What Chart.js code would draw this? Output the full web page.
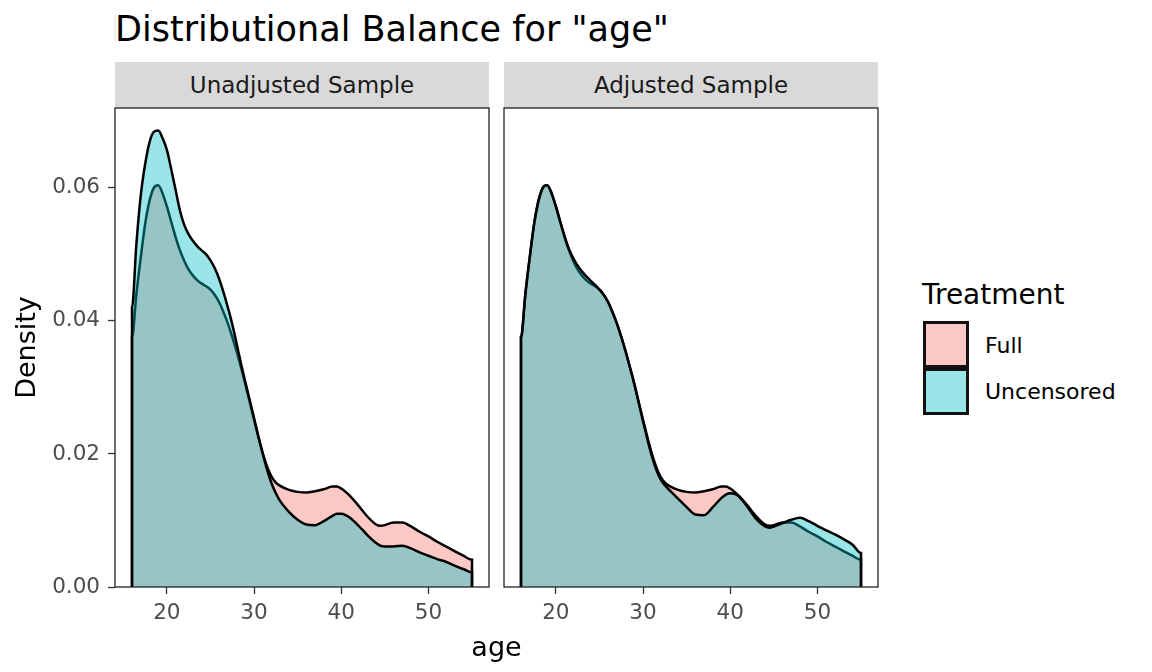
<!DOCTYPE html>
<html>
<head>
<meta charset="utf-8">
<script src="https://cdn.jsdelivr.net/npm/chart.js@4.4.1/dist/chart.umd.min.js"></script>
<style>
body { margin:0; background:#fff; width:1152px; height:672px; position:relative; overflow:hidden; font-family:'DejaVu Sans', sans-serif; }
canvas { position:absolute; }
.t { position:absolute; white-space:nowrap; line-height:1; }
.strip { position:absolute; top:62px; height:46px; width:374px; background:#d9d9d9; }
.key { position:absolute; left:923px; width:46px; height:47px; box-sizing:border-box; border:3px solid #111; }
</style>
</head>
<body>
<div class="t" style="left:115px;top:12px;font-size:35px;color:#000">Distributional Balance for "age"</div>

<div class="strip" style="left:115px"></div>
<div class="strip" style="left:504px"></div>
<div class="t" id="strip1" style="left:115px;width:374px;text-align:center;top:73.5px;font-size:23px;color:#1a1a1a"></div>
<div class="t" id="strip2" style="left:504px;width:374px;text-align:center;top:73.5px;font-size:23px;color:#1a1a1a"></div>

<canvas id="panel1" width="491" height="526" style="left:0;top:106px"></canvas>
<canvas id="panel2" width="378" height="526" style="left:502px;top:106px"></canvas>

<div class="t" style="left:396.5px;width:200px;text-align:center;top:633px;font-size:27px;color:#000">age</div>

<div class="t" style="left:922px;top:281px;font-size:28px;color:#000">Treatment</div>
<div class="key" style="top:321px;background:rgb(252,200,197)"></div>
<div class="key" style="top:368px;background:rgb(153,229,231)"></div>
<div class="t" id="lab1" style="left:985px;top:334.5px;font-size:22px;color:#000"></div>
<div class="t" id="lab2" style="left:985px;top:381px;font-size:22px;color:#000"></div>

<script>
// facets and groups
var facets = ["Unadjusted Sample", "Adjusted Sample"];
var groups = ["Full", "Uncensored"];

// age values the densities were read at
var ageGrid = [16, 16.5, 17, 17.5, 18, 18.5, 19, 19.5, 20, 20.5, 21, 21.5, 22, 22.5, 23, 23.5, 24, 24.5, 25, 25.5,
  26, 26.5, 27, 27.5, 28, 28.5, 29, 29.5, 30, 30.5, 31, 31.5, 32, 32.5, 33, 34, 35, 36, 37, 38,
  39, 39.5, 40, 40.5, 41, 42, 43, 44, 44.5, 45, 46, 47, 48, 49, 50, 51, 52, 53, 54, 55];

// full sample (same in both panels)
var fullDensity = [0.0375, 0.0440, 0.0495, 0.0545, 0.0580, 0.0600, 0.0604, 0.0592, 0.0572, 0.0549,
  0.0526, 0.0506, 0.0490, 0.0477, 0.0468, 0.0461, 0.0456, 0.0452, 0.0447, 0.0439,
  0.0428, 0.0413, 0.0396, 0.0376, 0.0354, 0.0330, 0.0305, 0.0278, 0.0251, 0.0225,
  0.0201, 0.0181, 0.0166, 0.0157, 0.0152, 0.0146, 0.0143, 0.0142, 0.0144, 0.0147,
  0.0151, 0.0151, 0.0148, 0.0143, 0.0137, 0.0122, 0.0106, 0.0094, 0.0092, 0.0093,
  0.0097, 0.0097, 0.0091, 0.0083, 0.0076, 0.0068, 0.0061, 0.0054, 0.0047, 0.0041];

// uncensored, before weighting
var uncensoredUnadj = [0.0420, 0.0515, 0.0588, 0.0635, 0.0668, 0.0684, 0.0686, 0.0675, 0.0657, 0.0628,
  0.0597, 0.0566, 0.0544, 0.0530, 0.0520, 0.0512, 0.0506, 0.0500, 0.0491, 0.0479,
  0.0463, 0.0443, 0.0420, 0.0395, 0.0366, 0.0336, 0.0308, 0.0281, 0.0254, 0.0226,
  0.0200, 0.0176, 0.0156, 0.0141, 0.0129, 0.0113, 0.0101, 0.0094, 0.0093, 0.0099,
  0.0107, 0.0110, 0.0110, 0.0108, 0.0104, 0.0092, 0.0078, 0.0066, 0.0062, 0.0061,
  0.0061, 0.0062, 0.0058, 0.0052, 0.0047, 0.0042, 0.0038, 0.0032, 0.0027, 0.0022];

// uncensored, after weighting
var uncensoredAdj = [0.0375, 0.0440, 0.0495, 0.0545, 0.0580, 0.0600, 0.0604, 0.0592, 0.0572, 0.0549,
  0.0527, 0.0508, 0.0494, 0.0483, 0.0474, 0.0467, 0.0460, 0.0454, 0.0447, 0.0439,
  0.0428, 0.0413, 0.0396, 0.0376, 0.0354, 0.0330, 0.0305, 0.0277, 0.0249, 0.0222,
  0.0197, 0.0177, 0.0162, 0.0153, 0.0146, 0.0133, 0.0120, 0.0109, 0.0108, 0.0120,
  0.0134, 0.0139, 0.0141, 0.0140, 0.0136, 0.0120, 0.0102, 0.0091, 0.0089, 0.0091,
  0.0096, 0.0101, 0.0104, 0.0099, 0.0092, 0.0085, 0.0079, 0.0072, 0.0064, 0.0051];

var xTicks = [20, 30, 40, 50];
var yTicks = [0, 0.02, 0.04, 0.06];

document.getElementById("strip1").textContent = facets[0];
document.getElementById("strip2").textContent = facets[1];
document.getElementById("lab1").textContent = groups[0];
document.getElementById("lab2").textContent = groups[1];

// closed outline: drop to zero at both ends like geom_density
function curve(vals) {
  var pts = [{x: ageGrid[0], y: 0}];
  for (var i = 0; i < ageGrid.length; i++) pts.push({x: ageGrid[i], y: vals[i]});
  pts.push({x: ageGrid[ageGrid.length - 1], y: 0});
  return pts;
}

function makeSet(label, vals, color, order) {
  return {
    label: label,
    data: curve(vals),
    backgroundColor: color,
    borderColor: "#000",
    borderWidth: 2.5,
    fill: "origin",
    pointRadius: 0,
    cubicInterpolationMode: "monotone",
    order: order
  };
}

var panelFrame = {
  id: "panelFrame",
  afterDatasetsDraw: function(chart) {
    var a = chart.chartArea, c = chart.ctx;
    c.save();
    c.strokeStyle = "#222";
    c.lineWidth = 1.3;
    c.strokeRect(a.left, a.top, a.right - a.left, a.bottom - a.top);
    c.restore();
  }
};

var tickFont = {family: "DejaVu Sans", size: 21.5};

function noPad(s) {
  s.paddingTop = 0; s.paddingBottom = 0; s.paddingLeft = 0; s.paddingRight = 0;
}

function makeOptions(showY) {
  return {
    responsive: false,
    animation: false,
    layout: {padding: {top: 2, right: 2, left: showY ? 0 : 2, bottom: 0}},
    plugins: {legend: {display: false}, tooltip: {enabled: false}},
    scales: {
      x: {
        type: "linear",
        min: 14.05,
        max: 56.95,
        afterBuildTicks: function(s) { s.ticks = xTicks.map(function(v) { return {value: v}; }); },
        afterFit: function(s) { s.height = 45; noPad(s); },
        ticks: {color: "#4d4d4d", font: tickFont, padding: 7, maxRotation: 0},
        grid: {display: true, drawOnChartArea: false, drawTicks: true, tickLength: 7, tickColor: "#333", tickWidth: 1.3},
        border: {display: false}
      },
      y: {
        type: "linear",
        display: showY,
        min: 0,
        max: 0.0720,
        afterBuildTicks: function(s) { s.ticks = yTicks.map(function(v) { return {value: v}; }); },
        afterFit: function(s) { s.width = showY ? 115 : 0; noPad(s); },
        ticks: {color: "#4d4d4d", font: tickFont, padding: 8, callback: function(v) { return v.toFixed(2); }},
        grid: {display: true, drawOnChartArea: false, drawTicks: true, tickLength: 7, tickColor: "#333", tickWidth: 1.3},
        border: {display: false},
        title: {display: true, text: "Density", color: "#000", font: {family: "DejaVu Sans", size: 27}, padding: {top: 12, bottom: 0}}
      }
    }
  };
}

new Chart(document.getElementById("panel1"), {
  type: "line",
  data: {datasets: [
    makeSet(groups[0], fullDensity, "rgba(248,118,109,0.4)", 1),
    makeSet(groups[1], uncensoredUnadj, "rgba(0,191,196,0.4)", 0)
  ]},
  options: makeOptions(true),
  plugins: [panelFrame]
});

new Chart(document.getElementById("panel2"), {
  type: "line",
  data: {datasets: [
    makeSet(groups[0], fullDensity, "rgba(248,118,109,0.4)", 1),
    makeSet(groups[1], uncensoredAdj, "rgba(0,191,196,0.4)", 0)
  ]},
  options: makeOptions(false),
  plugins: [panelFrame]
});
</script>
</body>
</html>
